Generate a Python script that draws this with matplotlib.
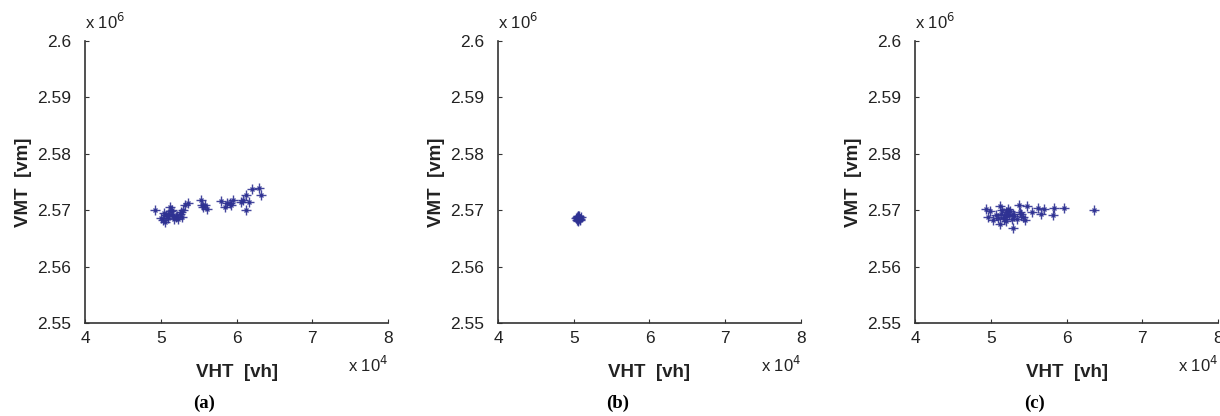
import numpy as np
import matplotlib
matplotlib.use("Agg")
import matplotlib.pyplot as plt

# VHT [vh] and VMT [vm] samples per panel
vht_a = [49200, 50000, 50300, 50700, 51100, 51600, 50600, 50900, 51300, 51800,
         52000, 51200, 50400, 51500, 52500, 53000, 52100, 53200, 52800, 53600,
         52300, 55300, 55600, 56100, 55800, 55500, 58000, 58500, 59100, 59600,
         58800, 59300, 60900, 61200, 61600, 61200, 62100, 63000, 63300, 60600,
         51000, 52700]
vmt_a = [2570100, 2568700, 2568200, 2569100, 2569400, 2569100, 2567900, 2568900, 2569900, 2568500,
         2568800, 2570600, 2569500, 2570000, 2569400, 2570100, 2569000, 2571000, 2568800, 2571200,
         2568500, 2571800, 2570600, 2570300, 2571000, 2570900, 2571600, 2570600, 2571200, 2571800,
         2571300, 2570900, 2571800, 2572700, 2571500, 2570100, 2573700, 2574000, 2572700, 2571400,
         2568600, 2569700]

vht_b = [50300, 50500, 50700, 50900, 50400, 50600, 50800, 50500, 50700, 50600,
         50400, 50800, 50600, 50500]
vmt_b = [2568600, 2568900, 2568700, 2568800, 2568300, 2568400, 2568500, 2568200, 2568900, 2568700,
         2568800, 2568300, 2568100, 2569000]

vht_c = [49400, 49900, 51200, 51500, 52300, 52100, 53000, 52800, 52900, 53700,
         54300, 54800, 55400, 56300, 57000, 56600, 58300, 58200, 59700, 63600,
         50700, 50300, 51200, 51700, 53400, 53900, 54500, 49700, 52000, 52600,
         51800, 50900, 52400, 53100, 52000, 51400, 54000]
vmt_c = [2570300, 2569800, 2570800, 2570000, 2570300, 2569100, 2569400, 2568500, 2566900, 2571000,
         2568800, 2570800, 2569700, 2570400, 2570200, 2569400, 2570400, 2569100, 2570400, 2570000,
         2569100, 2568200, 2567600, 2568800, 2568500, 2569700, 2568200, 2568800, 2569600, 2569900,
         2568400, 2568700, 2569200, 2568900, 2568000, 2569400, 2569300]

panels = [(vht_a, vmt_a, "(a)"), (vht_b, vmt_b, "(b)"), (vht_c, vmt_c, "(c)")]

x_ticks = [4, 5, 6, 7, 8]
y_ticks = [2.55, 2.56, 2.57, 2.58, 2.59, 2.6]
y_labels = ["2.55", "2.56", "2.57", "2.58", "2.59", "2.6"]

W, H = 1220, 416
fig = plt.figure(figsize=(W / 100, H / 100), dpi=100)
plt.rcParams["font.family"] = ["Liberation Sans", "DejaVu Sans"]

lefts = [85, 498, 915]
ax_w, ax_top, ax_bot = 303, 41, 323
blue = "#2E3192"
edge = "#333333"

for left, (vht, vmt, tag) in zip(lefts, panels):
    ax = fig.add_axes([left / W, 1 - ax_bot / H, ax_w / W, (ax_bot - ax_top) / H])
    x = np.array(vht) / 1e4
    y = np.array(vmt) / 1e6
    # MATLAB '*' marker: long plus with short diagonal arms
    ax.plot(x, y, linestyle="none", marker="+", ms=6.5, mew=1.0, color=blue, alpha=0.9)
    ax.plot(x, y, linestyle="none", marker="x", ms=3.5, mew=1.0, color=blue, alpha=0.9)
    ax.set_xlim(4, 8)
    ax.set_ylim(2.55, 2.6)
    ax.set_xticks(x_ticks)
    ax.set_xticklabels([str(t) for t in x_ticks])
    ax.set_yticks(y_ticks)
    ax.set_yticklabels(y_labels)
    for s in ["top", "right"]:
        ax.spines[s].set_visible(False)
    for s in ["left", "bottom"]:
        ax.spines[s].set_color(edge)
        ax.spines[s].set_linewidth(1.2)
    ax.tick_params(direction="in", length=3, width=0.8, color=edge,
                   labelsize=12.5, labelcolor="#222222")
    ax.tick_params(axis="x", pad=6)
    ax.tick_params(axis="y", pad=10)

    ax.set_xlabel("VHT  [vh]", fontsize=13.5, fontweight="bold", color="#222222")
    ax.xaxis.set_label_coords(0.5, -0.145)
    ax.set_ylabel("VMT  [vm]", fontsize=13.5, fontweight="bold", color="#222222")
    ax.yaxis.set_label_coords(-0.175, 0.5)

    # MATLAB-style exponent labels
    fig.text(left / W, 1 - 29 / H, r"x 10$^{6}$", fontsize=12, color="#222222",
             ha="left", va="baseline")
    fig.text((left + ax_w) / W, 1 - 372 / H, r"x 10$^{4}$", fontsize=12,
             color="#222222", ha="right", va="baseline")
    fig.text((left + ax_w / 2 - 32) / W, 1 - 403 / H, tag, fontsize=13.5,
             fontweight="bold", family=["Liberation Serif", "DejaVu Serif"],
             ha="center", va="center")

fig.savefig("out.png", dpi=100)
